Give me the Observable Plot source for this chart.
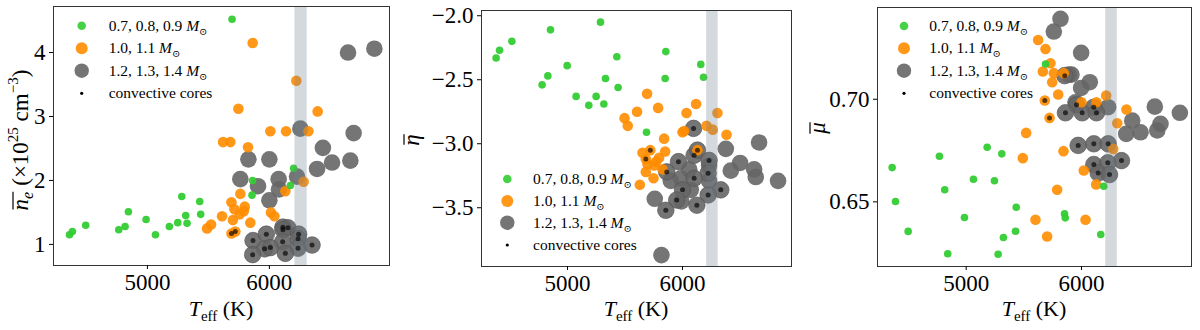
<!DOCTYPE html>
<html><head><meta charset="utf-8">
<script src="https://cdn.jsdelivr.net/npm/d3@7"></script>
<script src="https://cdn.jsdelivr.net/npm/@observablehq/plot@0.6"></script>
<style>
body{margin:0;background:#fff;}
#wrap{display:flex;width:1200px;height:330px;}
</style></head><body><div id="wrap"></div>
<script>
// ---------- data ----------
const xTicks = [5000, 6000];
const bandTeff = [6210, 6310];
const legendLabels = ["0.7, 0.8, 0.9 ", "1.0, 1.1 ", "1.2, 1.3, 1.4 ", "convective cores"];

// Panel 1: mean electron density (x10^25 cm^-3)
const neTicks = [1, 2, 3, 4];
const neGreenT = [4361,4385,4494,4765,4817,4844,4989,5066,5180,5249,5282,5314,5325,5429,5437,5694,5863,5858,6199,6172];
const neGreen  = [1.15,1.20,1.30,1.23,1.28,1.51,1.39,1.15,1.28,1.34,1.75,1.45,1.33,1.67,1.47,4.52,2.00,1.77,2.19,1.92];
const neOrangeT = [5863,6221,5746,6396,6008,6137,6320,5620,5680,5825,6281,6131,5762,5689,5713,5798,5790,5612,5701,5757,5844,6013,6041,5489,5522];
const neOrange  = [4.15,3.56,3.12,3.08,2.77,2.77,2.77,2.60,2.60,2.52,1.98,1.83,1.79,1.66,1.55,1.59,1.52,1.44,1.38,1.47,1.34,1.50,1.44,1.25,1.31];
const neOrangeCoreT = [5689,5721];
const neOrangeCore  = [1.17,1.20];
const neGrayT = [6645,6861,6254,6691,6439,6514,6391,6664,5828,6000,5762,5907,6076,6079,6000,6227];
const neGray  = [4.00,4.06,2.81,2.74,2.51,2.28,2.18,2.31,2.33,2.33,2.02,1.91,2.02,1.86,1.69,2.06];
const neGrayCoreT = [5866,5975,6111,6152,6111,6240,6235,6109,5961,6008,6235,6350,5863,6131];
const neGrayCore  = [1.06,1.16,1.27,1.26,1.23,1.16,1.09,1.04,0.93,0.95,0.94,0.99,0.84,0.86];

// Panel 2: mean degeneracy parameter eta
const etaTicks = [-2.0, -2.5, -3.0, -3.5];
const etaGreenT = [4379,4409,4516,4852,5287,4779,4829,4997,5075,5185,5249,5316,5330,5429,5440,5687,5855,5849,6159,6183];
const etaGreen  = [-2.33,-2.27,-2.20,-2.11,-2.05,-2.54,-2.47,-2.39,-2.63,-2.70,-2.63,-2.69,-2.49,-2.32,-2.56,-2.91,-2.28,-2.49,-2.38,-2.48];
const etaOrangeT = [5692,5605,5496,5524,5788,6035,6118,6304,6209,6263,6383,6000,6014,5840,5849,6130,5652,5797,5753,5696,5681,5748,5826,5629,5770];
const etaOrange  = [-2.61,-2.75,-2.80,-2.86,-2.72,-2.76,-2.69,-2.76,-2.86,-2.89,-2.93,-2.91,-2.90,-2.96,-3.06,-3.05,-3.07,-3.11,-3.17,-3.16,-3.22,-3.27,-3.20,-3.32,-3.14];
const etaOrangeCoreT = [5720,5681];
const etaOrangeCore  = [-3.05,-3.12];
const etaGrayT = [6666,6831,6377,6501,6420,6623,6637,5759,5817,5898,5985,6058,6072,6231,6231,5990];
const etaGray  = [-2.99,-3.29,-3.04,-3.15,-3.21,-3.20,-3.26,-3.43,-3.87,-3.29,-3.27,-3.20,-3.36,-3.17,-3.29,-3.45];
const etaGrayCoreT = [6096,5965,5863,6101,6130,6231,6223,6101,6000,6333,6223,5950,6125,5855];
const etaGrayCore  = [-2.88,-3.14,-3.22,-3.09,-3.05,-3.13,-3.23,-3.27,-3.36,-3.36,-3.40,-3.44,-3.48,-3.52];

// Panel 3: mean molecular weight mu
const muTicks = [0.65, 0.70];
const muGreenT = [4358,4387,4497,4768,4814,4840,4985,5063,5182,5245,5277,5309,5323,5428,5434,5688,5853,5859,6193,6167];
const muGreen  = [0.6667,0.6502,0.6356,0.6722,0.6559,0.6247,0.6424,0.6610,0.6766,0.6603,0.6245,0.6734,0.6326,0.6357,0.6474,0.7172,0.6442,0.6422,0.6576,0.6341];
const muOrangeT = [5520,5491,5601,5624,5688,5731,5665,5746,5760,5847,5798,6000,6130,6214,6390,6310,6275,5844,6020,6127,5789,6035,5702];
const muOrange  = [0.6836,0.6713,0.6413,0.7289,0.7245,0.7175,0.7135,0.7083,0.7127,0.7127,0.7023,0.6985,0.6985,0.7018,0.6950,0.6883,0.6758,0.6747,0.6653,0.6585,0.6559,0.6413,0.6331];
const muOrangeCoreT = [5682,5723];
const muOrangeCore  = [0.6994,0.6909];
const muGrayT = [5818,5760,5997,5890,5913,6072,5997,6231,6636,6853,6440,6685,6388,6512,6657,5948];
const muGray  = [0.7392,0.7330,0.7226,0.7120,0.7120,0.7083,0.7055,0.6961,0.6964,0.6934,0.6896,0.6880,0.6831,0.6839,0.6848,0.6985];
const muGrayCoreT = [5855,5957,6107,5861,6006,6130,5971,6107,6231,6347,6107,6228,6145,6243];
const muGrayCore  = [0.7115,0.6973,0.6961,0.6934,0.6934,0.6934,0.6775,0.6783,0.6783,0.6701,0.6682,0.6690,0.6640,0.6633];

// ---------- drawing ----------
const FONT = "'Liberation Serif','DejaVu Serif',serif";
const GREEN = "#33cc33", ORANGE = "#ff8c00", GRAY = "#666666";
const pts = (T, Y) => T.map((t, i) => ({t, v: Y[i]}));

function panel(c) {
  const cores = pts(c.gcT, c.gc).concat(pts(c.ocT, c.oc));
  return Plot.plot({
    width: 400, height: 330,
    marginLeft: c.ml, marginRight: c.mr, marginTop: c.mt, marginBottom: c.mb,
    x: {domain: c.xd},
    y: {domain: c.yd},
    style: {fontFamily: FONT, background: "white", color: "black"},
    marks: [
      Plot.dot(pts(c.gT, c.g), {x: "t", y: "v", r: 8.3, fill: GRAY, fillOpacity: 0.9}),
      Plot.dot(pts(c.gcT, c.gc), {x: "t", y: "v", r: 8.3, fill: GRAY, fillOpacity: 0.9, stroke: "#555", strokeWidth: 0.8, strokeOpacity: 0.8}),
      Plot.dot(pts(c.oT, c.o).concat(pts(c.ocT, c.oc)), {x: "t", y: "v", r: 5.3, fill: ORANGE, fillOpacity: 0.9}),
      Plot.dot(pts(c.grT, c.gr), {x: "t", y: "v", r: 3.8, fill: GREEN, fillOpacity: 0.95}),
      Plot.rect([{a: bandTeff[0], b: bandTeff[1]}], {x1: "a", x2: "b", fill: "slategray", fillOpacity: 0.3}),
      Plot.dot(cores, {x: "t", y: "v", r: 2.5, fill: "black", fillOpacity: 0.65}),
      Plot.frame({stroke: "#333", strokeWidth: 1}),
      Plot.axisX(xTicks, {tickSize: 4, tickPadding: 4, fontSize: 23, tickFormat: d => String(d), label: null}),
      Plot.axisY(c.yt, {tickSize: 4, tickPadding: 4, fontSize: 23, tickFormat: c.fmt, label: null})
    ]
  });
}

function rich(parent, parts, attrs) {
  const t = parent.append("text").attr("font-family", FONT).attr("fill", "black").attr("text-anchor", "start");
  for (const k in attrs) t.attr(k, attrs[k]);
  for (const p of parts) {
    const s = t.append("tspan").text(p.t);
    if (p.it) s.attr("font-style", "italic");
    if (p.size) s.attr("font-size", p.size);
    if (p.dy) s.attr("dy", p.dy);
  }
  return t;
}

function legend(svg, sx, tx, ys) {
  const g = d3.select(svg).append("g");
  const sym = [[4.3, GREEN], [6, ORANGE], [7.2, GRAY], [1.6, "black"]];
  ys.forEach((y, i) => {
    g.append("circle").attr("cx", sx).attr("cy", y).attr("r", sym[i][0]).attr("fill", sym[i][1]).attr("fill-opacity", i === 3 ? 1 : 0.9);
    const parts = [{t: legendLabels[i]}];
    if (i < 3) parts.push({t: "M", it: true}, {t: "\u2299", size: 10, dy: 4});
    rich(g, parts, {x: tx, y: y + 5, "font-size": 15.5});
  });
}

function xLabel(svg, cx) {
  rich(d3.select(svg), [{t: "T", it: true}, {t: "eff", size: 15, dy: 5}, {t: " (K)", dy: -5}],
    {x: cx, y: 316, "font-size": 22, "text-anchor": "middle"});
}

function yLabel(svg, bx, cy, mainParts, restParts) {
  const g = d3.select(svg).append("g").attr("transform", `translate(${bx},${cy}) rotate(-90)`);
  const inner = g.append("g");
  const t1 = rich(inner, mainParts, {x: 0, y: 0, "font-size": 23});
  const b1 = t1.node().getBBox();
  inner.append("line").attr("x1", b1.x + 1).attr("x2", b1.x + b1.width).attr("y1", -15).attr("y2", -15)
    .attr("stroke", "black").attr("stroke-width", 1.2);
  let total = b1.x + b1.width;
  if (restParts) {
    const t2 = rich(inner, restParts, {x: total + 6, y: 0, "font-size": 23});
    const b2 = t2.node().getBBox();
    total = b2.x + b2.width;
  }
  inner.attr("transform", `translate(${-total / 2},0)`);
}

const wrap = document.getElementById("wrap");

const s1 = panel({ml: 53, mr: 11, mt: 6, mb: 65, xd: [4230, 6985], yd: [0.67, 4.72], yt: neTicks, fmt: d => String(d),
  gT: neGrayT, g: neGray, gcT: neGrayCoreT, gc: neGrayCore, oT: neOrangeT, o: neOrange, ocT: neOrangeCoreT, oc: neOrangeCore, grT: neGreenT, gr: neGreen});
const s2 = panel({ml: 81, mr: 9, mt: 10, mb: 64, xd: [4252, 6948], yd: [-3.959, -1.959], yt: etaTicks, fmt: d => d.toFixed(1).replace("-", "\u2212"),
  gT: etaGrayT, g: etaGray, gcT: etaGrayCoreT, gc: etaGrayCore, oT: etaOrangeT, o: etaOrange, ocT: etaOrangeCoreT, oc: etaOrangeCore, grT: etaGreenT, gr: etaGreen});
const s3 = panel({ml: 77, mr: 9, mt: 7, mb: 64, xd: [4231, 6954], yd: [0.6185, 0.7447], yt: muTicks, fmt: d => d.toFixed(2),
  gT: muGrayT, g: muGray, gcT: muGrayCoreT, gc: muGrayCore, oT: muOrangeT, o: muOrange, ocT: muOrangeCoreT, oc: muOrangeCore, grT: muGreenT, gr: muGreen});
[s1, s2, s3].forEach(s => wrap.appendChild(s));

legend(s1, 81.7, 108.7, [25.7, 48.3, 70.7, 93.3]);
legend(s2, 107.3, 133, [179, 201, 222.7, 245]);
legend(s3, 104, 129.3, [26, 48.3, 70.7, 93.3]);

xLabel(s1, 221);
xLabel(s2, 236);
xLabel(s3, 234);

yLabel(s1, 28, 140, [{t: "n", it: true}, {t: "e", it: true, size: 16, dy: 5}],
  [{t: "(\u00d710"}, {t: "25", size: 15, dy: -10}, {t: " cm", dy: 10}, {t: "\u22123", size: 15, dy: -10}, {t: ")", dy: 10}]);
yLabel(s2, 19, 140, [{t: "\u03b7", it: true}], null);
yLabel(s3, 25, 128, [{t: "\u03bc", it: true}], null);
</script></body></html>
